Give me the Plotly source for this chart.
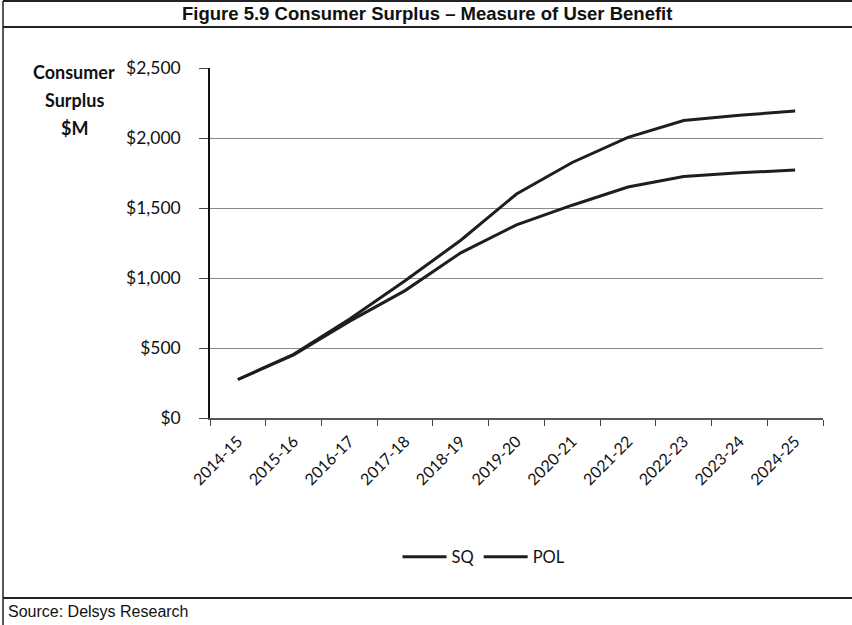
import plotly.graph_objects as go

years = ["2014-15", "2015-16", "2016-17", "2017-18", "2018-19", "2019-20",
         "2020-21", "2021-22", "2022-23", "2023-24", "2024-25"]
sq = [275, 450, 690, 910, 1180, 1380, 1520, 1650, 1725, 1752, 1771]
pol = [275, 455, 705, 980, 1270, 1600, 1825, 2005, 2125, 2162, 2193]
y_ticks = [0, 500, 1000, 1500, 2000, 2500]
y_tick_text = ["$0", "$500", "$1,000", "$1,500", "$2,000", "$2,500"]
caption_lines = ["Consumer", "Surplus", "$M"]

FONT = "Lato"
W, H = 852, 625
L, R, T, B = 210, 29, 68, 207
PW, PH = W - L - R, H - T - B


def px_x(p):
    return (p - L) / PW


def px_y(p):
    return (H - B - p) / PH


fig = go.Figure()
fig.add_trace(go.Scatter(x=years, y=sq, name="SQ", mode="lines",
                         line=dict(color="#1e1e1e", width=3)))
fig.add_trace(go.Scatter(x=years, y=pol, name="POL", mode="lines",
                         line=dict(color="#1e1e1e", width=3)))

fig.update_layout(
    width=W, height=H,
    margin=dict(l=L, r=R, t=T, b=B),
    paper_bgcolor="white", plot_bgcolor="white",
    font=dict(family=FONT, color="#111", size=15),
    showlegend=True,
    legend=dict(orientation="h", x=px_x(484), xanchor="center", y=px_y(557), yanchor="middle",
                font=dict(family=FONT, size=16.5, color="#111"),
                itemwidth=44, bgcolor="rgba(0,0,0,0)"),
)
fig.update_xaxes(
    type="category", tickson="boundaries", ticks="outside", ticklen=6,
    tickcolor="#444", showline=True, linecolor="#555", linewidth=1.5,
    showgrid=False, tickangle=-45, tickfont=dict(family=FONT, size=16, color="#111"),
    range=[-0.5, 10.5], ticklabelstandoff=6,
)
fig.update_yaxes(
    range=[0, 2500], tickvals=y_ticks, ticktext=y_tick_text,
    ticks="outside", ticklen=9, tickcolor="#444",
    showline=True, linecolor="#111", linewidth=1.5,
    showgrid=True, gridcolor="#8a8a8a", gridwidth=1.2,
    tickfont=dict(family=FONT, size=17.5, color="#111"),
    ticklabelstandoff=15, zeroline=False,
)

# Axis caption, one line at a time
for i, line in enumerate(caption_lines):
    fig.add_annotation(text="<b>" + line + "</b>", xref="paper", yref="paper",
                       x=px_x(74), y=px_y(72 + 28 * i), xanchor="center", yanchor="middle",
                       showarrow=False, font=dict(family=FONT, size=18, color="#111"))

# Title
fig.add_annotation(text="<b>Figure 5.9 Consumer Surplus \u2013 Measure of User Benefit</b>",
                   xref="paper", yref="paper",
                   x=px_x(427), y=px_y(14),
                   xanchor="center", yanchor="middle", showarrow=False,
                   font=dict(family="Liberation Sans", size=18.5, color="#111"))

# Source
fig.add_annotation(text="Source: Delsys Research", xref="paper", yref="paper",
                   x=px_x(6), y=px_y(611),
                   xanchor="left", yanchor="middle", showarrow=False,
                   font=dict(family="Liberation Sans", size=16, color="#111"))

# Frame lines
for (x0, y0, x1, y1, w) in [
    (3, 1, W, 1, 2),
    (3, 27, W, 27, 2),
    (3, 1, 3, H, 1.5),
    (3, 598, W, 598, 2),
]:
    fig.add_shape(type="line", xref="paper", yref="paper",
                  x0=px_x(x0), y0=px_y(y0), x1=px_x(x1), y1=px_y(y1),
                  line=dict(color="#222", width=w))

fig.write_html("out.html")
